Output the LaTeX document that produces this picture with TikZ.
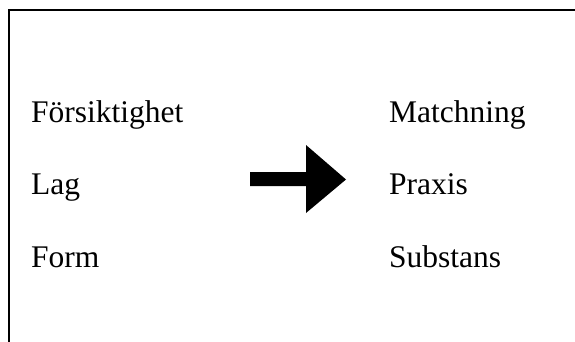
\documentclass[tikz,border=0pt]{standalone}
\usepackage{fontspec}
\setmainfont{Liberation Serif}
\begin{document}
\begin{tikzpicture}[x=1pt,y=-1pt,
  word/.style={anchor=base west,inner sep=0pt,font=\fontsize{31.5}{37}\selectfont},
  frame/.style={line width=2.2pt,draw=black}]
\useasboundingbox (0,0) rectangle (575,342);
% open frame: only the top and left edges fall inside the page
\draw[frame] (9,342) -- (9,10.3) -- (575,10.3);
% left column
\node[word] (fors) at (31,122) {Försiktighet};
\node[word] (lag)  at (31,194.5) {Lag};
\node[word] (form) at (31,267) {Form};
% right column
\node[word] (match) at (389,122) {Matchning};
\node[word] (prax)  at (389,194.5) {Praxis};
\node[word] (subst) at (389,267) {Substans};
% block arrow between the columns
\fill[black] (250,172) -- (306,172) -- (306,145) -- (346,179.5)
  -- (306,213) -- (306,186) -- (250,186) -- cycle;
\end{tikzpicture}
\end{document}
